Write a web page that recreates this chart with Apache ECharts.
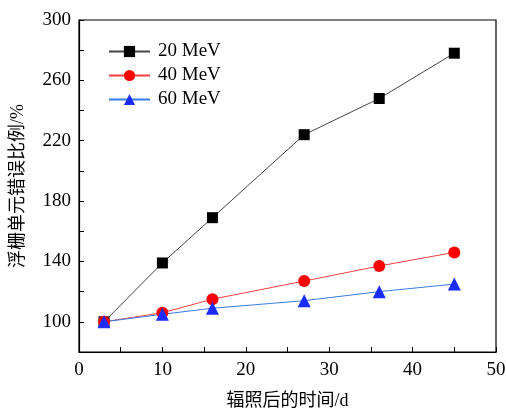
<!DOCTYPE html>
<html>
<head>
<meta charset="utf-8">
<script src="https://cdn.jsdelivr.net/npm/echarts@6/dist/echarts.min.js"></script>
<style>
  html, body { margin: 0; padding: 0; background: #fff; }
  #chart { width: 506px; height: 411px; }
</style>
</head>
<body>
<div id="chart"></div>
<script>
// 辐照后的天数
const days = [3, 10, 16, 27, 36, 45];
const names = ['20 MeV', '40 MeV', '60 MeV'];
const mev20 = [100, 139, 169, 224, 248, 278];
const mev40 = [100, 106, 115, 127, 137, 146];
const mev60 = [100, 105, 109, 114, 120, 125];

const serif = '"Liberation Serif", "DejaVu Serif", serif';
const cjk = '"Liberation Serif", "Noto Sans CJK SC", serif';

function pairs(vals) {
  return days.map((d, i) => [d, vals[i]]);
}

function makeSeries(name, vals, symbol, size, markColor, lineColor) {
  return {
    name: name,
    type: 'line',
    data: pairs(vals),
    symbol: symbol,
    symbolSize: size,
    showSymbol: true,
    itemStyle: { color: markColor },
    lineStyle: { color: lineColor, width: 1 },
    z: 3,
  };
}

const chart = echarts.init(document.getElementById('chart'));
chart.setOption({
  animation: false,
  grid: {
    left: 79,
    right: 10,
    top: 20,
    bottom: 59,
    outerBoundsMode: 'none',
    containLabel: false,
    show: true,
    borderColor: '#000',
    borderWidth: 1.2,
  },
  legend: {
    left: 103,
    top: 37,
    orient: 'vertical',
    itemWidth: 41,
    itemHeight: 14,
    itemGap: 5,
    textStyle: {
      fontFamily: serif,
      fontSize: 19,
      lineHeight: 18,
      color: '#000',
      padding: [0, 0, 0, 3],
    },
    data: names,
  },
  xAxis: {
    type: 'value',
    min: 0,
    max: 50,
    interval: 5,
    name: '辐照后的时间/d',
    nameLocation: 'middle',
    nameGap: 40,
    nameTextStyle: { fontFamily: cjk, fontSize: 18, color: '#000' },
    axisLine: { onZero: false, lineStyle: { color: '#000', width: 1.2 } },
    axisTick: { inside: true, length: 5, lineStyle: { color: '#000' } },
    splitLine: { show: false },
    axisLabel: {
      fontFamily: serif,
      fontSize: 19,
      color: '#000',
      margin: 9,
      formatter: (v) => (v % 10 === 0 ? String(v) : ''),
    },
  },
  yAxis: {
    type: 'value',
    min: 80,
    max: 300,
    interval: 20,
    name: '浮栅单元错误比例/%',
    nameLocation: 'middle',
    nameGap: 52,
    nameTextStyle: { fontFamily: cjk, fontSize: 18, color: '#000' },
    axisLine: { show: true, lineStyle: { color: '#000', width: 1.2 } },
    axisTick: { show: true, inside: true, length: 5, lineStyle: { color: '#000' } },
    splitLine: { show: false },
    axisLabel: {
      fontFamily: serif,
      fontSize: 19,
      color: '#000',
      margin: 8,
      formatter: (v) => (v >= 100 && (v - 100) % 40 === 0 ? String(v) : ''),
    },
  },
  series: [
    makeSeries(names[0], mev20, 'rect', 11, '#000', '#444'),
    makeSeries(names[1], mev40, 'circle', 12, '#ff0000', '#f04040'),
    makeSeries(names[2], mev60, 'triangle', 13, '#1a2cff', '#3a7be0'),
  ],
});
</script>
</body>
</html>
